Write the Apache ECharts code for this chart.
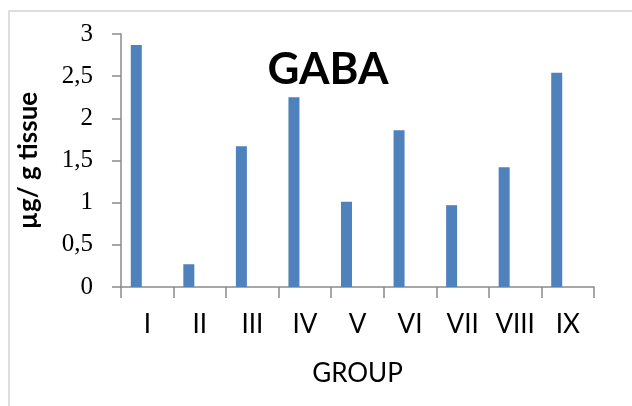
<!DOCTYPE html>
<html>
<head>
<meta charset="utf-8">
<script src="https://cdn.jsdelivr.net/npm/echarts@6/dist/echarts.min.js"></script>
<style>
  html, body { margin: 0; padding: 0; background: #fff; }
  #chart { width: 632px; height: 406px; }
</style>
</head>
<body>
<div id="chart"></div>
<script>
// GABA content per experimental group
const groups = ['I', 'II', 'III', 'IV', 'V', 'VI', 'VII', 'VIII', 'IX'];
const gabaValues = [2.87, 0.27, 1.67, 2.25, 1.01, 1.86, 0.97, 1.42, 2.54];
const yTicks = [0, 0.5, 1, 1.5, 2, 2.5, 3];

const chart = echarts.init(document.getElementById('chart'));

const axisGray = '#8a8a8a';

chart.setOption({
  animation: false,
  backgroundColor: '#ffffff',
  graphic: [{
    type: 'rect',
    shape: { x: 9, y: 11, width: 630, height: 420 },
    style: { fill: 'none', stroke: '#d4d4d4', lineWidth: 1.5 },
    z: -1
  }],
  title: {
    text: 'GABA',
    left: 323,
    top: 43,
    textAlign: 'center',
    textStyle: {
      fontFamily: 'Lato',
      fontWeight: 'bold',
      fontSize: 44,
      color: '#000'
    }
  },
  grid: { left: 121, top: 34, width: 473, height: 253, containLabel: false },
  xAxis: {
    type: 'category',
    data: groups,
    name: 'GROUP',
    nameLocation: 'middle',
    nameGap: 74,
    nameTextStyle: { fontFamily: 'Lato', fontSize: 26, color: '#000' },
    axisLine: { lineStyle: { color: axisGray, width: 1.5 } },
    axisTick: { show: true, length: 11, lineStyle: { color: axisGray, width: 1.5 } },
    axisLabel: {
      interval: 0,
      hideOverlap: false,
      margin: 25,
      fontFamily: 'Lato',
      fontSize: 26,
      color: '#000'
    }
  },
  yAxis: {
    type: 'value',
    min: yTicks[0],
    max: yTicks[yTicks.length - 1],
    interval: yTicks[1] - yTicks[0],
    name: 'µg/ g tissue',
    nameLocation: 'middle',
    nameGap: 79,
    nameRotate: 90,
    nameTextStyle: { fontFamily: 'Lato', fontWeight: 'bold', fontSize: 26, color: '#000' },
    splitLine: { show: false },
    axisLine: { show: true, lineStyle: { color: axisGray, width: 1.5 } },
    axisTick: { show: true, length: 9, lineStyle: { color: axisGray, width: 1.5 } },
    axisLabel: {
      margin: 28,
      fontFamily: 'Liberation Serif',
      fontSize: 25,
      color: '#000',
      formatter: v => String(v).replace('.', ',')
    }
  },
  series: [
    {
      type: 'bar',
      data: gabaValues,
      barWidth: 11,
      barGap: '100%',
      itemStyle: { color: '#4f81bd' }
    },
    {
      type: 'bar',
      data: groups.map(() => null),
      barWidth: 11,
      itemStyle: { color: '#c0504d' }
    }
  ]
});
</script>
</body>
</html>
